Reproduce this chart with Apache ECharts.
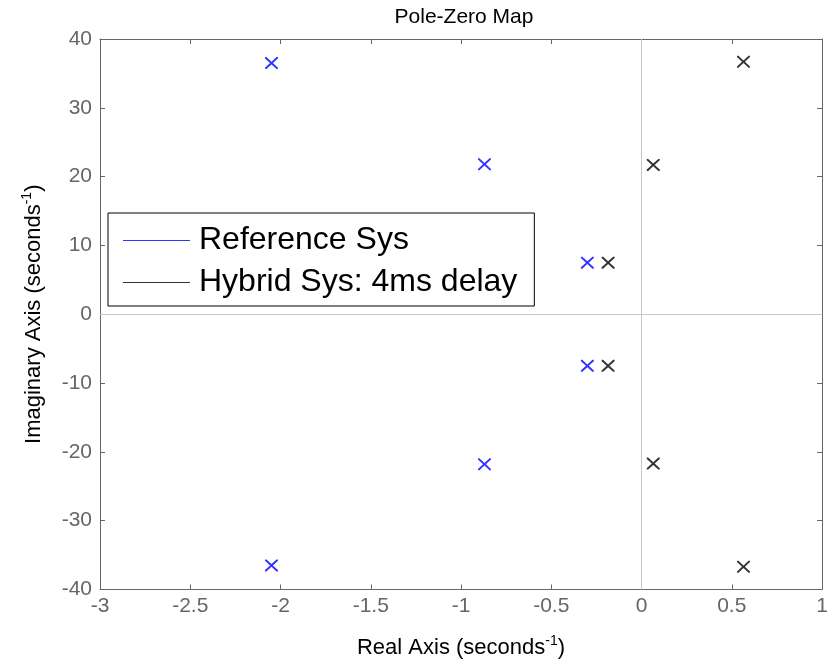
<!DOCTYPE html>
<html>
<head>
<meta charset="utf-8">
<script src="https://cdn.jsdelivr.net/npm/echarts@6/dist/echarts.min.js"></script>
<style>
  html, body { margin: 0; padding: 0; background: #fff; }
  #chart { width: 834px; height: 664px; }
</style>
</head>
<body>
<div id="chart"></div>
<script>
// pole locations
const refReal = [-2.05, -0.87, -0.30, -0.30, -0.87, -2.05]
const refImag = [36.5, 21.8, 7.5, -7.5, -21.8, -36.5]
const hybReal = [0.565, 0.065, -0.185, -0.185, 0.065, 0.565]
const hybImag = [36.7, 21.7, 7.5, -7.5, -21.7, -36.7]
const seriesNames = ['Reference Sys', 'Hybrid Sys: 4ms delay']
const seriesColors = ['#0000ff', '#000000']

// "x" marker as a filled outline so it keeps its colour
const cross = 'path://M0,0L1.1,0L5,3.9L8.9,0L10,0L10,1.1L6.1,5L10,8.9L10,10L8.9,10L5,6.1L1.1,10L0,10L0,8.9L3.9,5L0,1.1Z'
const axisColor = '#666666'
const labelFont = 'Liberation Sans, Arial, sans-serif'

function points(re, im) {
    return re.map((x, i) => [x, im[i]])
}

const chart = echarts.init(document.getElementById('chart'))

const baseAxis = {
    type: 'value',
    axisLine: { show: true, onZero: false, lineStyle: { color: axisColor, width: 1 } },
    axisTick: { show: true, inside: true, length: 5, lineStyle: { color: axisColor } },
    splitLine: { show: false }
}

const supStyle = { fontFamily: labelFont, fontSize: 14, color: '#000', padding: [0, 0, 13, 0] }

chart.setOption({
    animation: false,
    title: {
        text: 'Pole-Zero Map',
        left: 459,
        top: 2,
        textAlign: 'center',
        textStyle: { fontFamily: labelFont, fontSize: 21, fontWeight: 'normal', color: '#000' }
    },
    grid: { left: 100, top: 39, right: 12, bottom: 71 },
    legend: {
        orient: 'vertical',
        left: 108,
        top: 213,
        padding: [9.5, 17, 5.5, 15],
        itemGap: 6,
        itemWidth: 67,
        itemHeight: 1,
        icon: 'rect',
        backgroundColor: '#fff',
        borderColor: '#000',
        borderWidth: 1,
        borderRadius: 0,
        textStyle: { fontFamily: labelFont, fontSize: 32, lineHeight: 36, color: '#000', padding: [0, 0, 0, 4] },
        data: seriesNames.map((n, i) => ({ name: n, itemStyle: { color: seriesColors[i], borderWidth: 0 } }))
    },
    xAxis: [
        Object.assign({}, baseAxis, {
            min: -3, max: 1, interval: 0.5,
            name: 'Real Axis (seconds{sup|-1})',
            nameLocation: 'middle',
            nameGap: 45,
            nameTextStyle: {
                fontFamily: labelFont, fontSize: 22, color: '#000',
                rich: { sup: supStyle }
            },
            axisLabel: { fontFamily: labelFont, fontSize: 21, color: axisColor, margin: 6 }
        }),
        Object.assign({}, baseAxis, {
            min: -3, max: 1, interval: 0.5, position: 'top',
            axisLabel: { show: false }
        })
    ],
    yAxis: [
        Object.assign({}, baseAxis, {
            min: -40, max: 40, interval: 10,
            name: 'Imaginary Axis (seconds{sup|-1})',
            nameLocation: 'middle',
            nameGap: 53,
            nameTextStyle: {
                fontFamily: labelFont, fontSize: 22, color: '#000',
                rich: { sup: supStyle }
            },
            axisLabel: { fontFamily: labelFont, fontSize: 21, color: axisColor, margin: 8 }
        }),
        Object.assign({}, baseAxis, {
            min: -40, max: 40, interval: 10, position: 'right',
            axisLabel: { show: false }
        })
    ],
    series: [
        {
            name: seriesNames[0],
            type: 'scatter',
            symbol: cross,
            symbolSize: [13, 12],
            itemStyle: { color: seriesColors[0] },
            data: points(refReal, refImag),
            markLine: {
                silent: true,
                symbol: 'none',
                label: { show: false },
                lineStyle: { color: '#c8c8c8', width: 1, type: 'solid' },
                data: [{ xAxis: 0 }, { yAxis: 0 }]
            },
            z: 3
        },
        {
            name: seriesNames[1],
            type: 'scatter',
            symbol: cross,
            symbolSize: [13, 12],
            itemStyle: { color: seriesColors[1] },
            data: points(hybReal, hybImag),
            z: 3
        }
    ]
})
</script>
</body>
</html>
